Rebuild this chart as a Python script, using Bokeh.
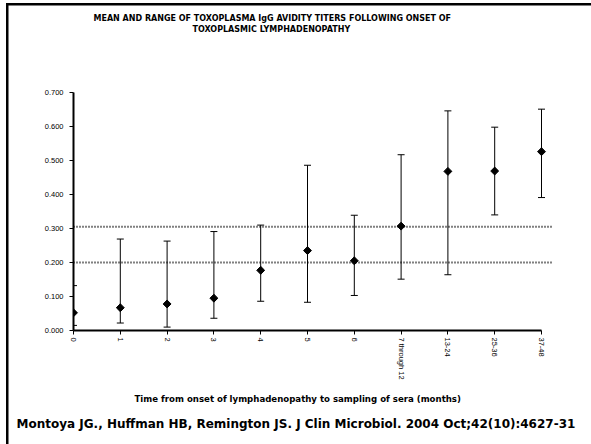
import math
from bokeh.plotting import figure
from bokeh.models import (Range1d, FixedTicker, NumeralTickFormatter, Span, Title,
                          Whisker, ColumnDataSource, TeeHead)
from bokeh.embed import file_html
from bokeh.resources import INLINE

# ---- data ----
categories = ["0", "1", "2", "3", "4", "5", "6", "7 through 12", "13-24", "25-36", "37-48"]
mean_avidity = [0.052, 0.067, 0.078, 0.095, 0.177, 0.235, 0.205, 0.307, 0.468, 0.469, 0.526]
max_avidity = [0.132, 0.269, 0.263, 0.291, 0.310, 0.486, 0.339, 0.517, 0.646, 0.598, 0.651]
min_avidity = [0.015, 0.022, 0.010, 0.036, 0.086, 0.083, 0.103, 0.151, 0.164, 0.340, 0.391]
cutoffs = [0.305, 0.200]
y_ticks = [0.0, 0.1, 0.2, 0.3, 0.4, 0.5, 0.6, 0.7]

title_line1 = "MEAN AND RANGE OF TOXOPLASMA IgG AVIDITY TITERS FOLLOWING ONSET OF"
title_line2 = "TOXOPLASMIC LYMPHADENOPATHY"
x_title = "Time from onset of lymphadenopathy to sampling of sera (months)"
citation = "Montoya JG., Huffman HB, Remington JS. J Clin Microbiol. 2004 Oct;42(10):4627-31"

xs = list(range(len(categories)))
src = ColumnDataSource(dict(x=xs, mean=mean_avidity, hi=max_avidity, lo=min_avidity))

FONT = "Liberation Sans"
TFONT = "DejaVu Sans"

p = figure(width=591, height=444, output_backend="svg", toolbar_location=None,
           x_range=Range1d(0, 10.235), y_range=Range1d(0, 0.7),
           min_border_left=73, min_border_right=39, min_border_top=92, min_border_bottom=114,
           title=None)
p.outline_line_color = None
p.xgrid.visible = False
p.ygrid.visible = False
p.background_fill_color = "white"
p.border_fill_color = None
p.styles = {
    "background": ("linear-gradient(#000, #000) 6px 3px / 585px 2.5px no-repeat, "
                   "linear-gradient(#000, #000) 6px 3px / 2.5px 441px no-repeat, #fff"),
}

# y axis
ya = p.yaxis[0]
ya.ticker = FixedTicker(ticks=y_ticks)
ya.formatter = NumeralTickFormatter(format="0.000")
ya.axis_line_width = 2
ya.axis_line_color = "black"
ya.major_tick_in = 0
ya.major_tick_out = 4
ya.major_tick_line_width = 1
ya.minor_tick_line_color = None
ya.major_label_standoff = 6
ya.major_label_text_font = FONT
ya.major_label_text_font_size = "7.5px"
ya.major_label_text_color = "black"

# x axis
xa = p.xaxis[0]
xa.ticker = FixedTicker(ticks=xs)
xa.major_label_overrides = {i: c for i, c in zip(xs, categories)}
xa.bounds = (0, len(categories) - 1)
xa.axis_line_width = 2
xa.axis_line_color = "black"
xa.major_tick_in = 0
xa.major_tick_out = 4
xa.minor_tick_line_color = None
xa.major_label_orientation = -math.pi / 2
xa.major_label_standoff = 3
xa.major_label_text_font = FONT
xa.major_label_text_font_size = "7.5px"
xa.major_label_text_color = "black"

# cutoff lines
for c in cutoffs:
    p.add_layout(Span(location=c, dimension="width", line_color="black",
                      line_dash="1 2", line_width=2))

# range bars
w = Whisker(source=src, base="x", upper="hi", lower="lo", line_color="black", line_width=1,
            upper_head=TeeHead(size=7, line_color="black", line_width=1),
            lower_head=TeeHead(size=7, line_color="black", line_width=1))
p.add_layout(w)

# mean markers (diamonds)
p.scatter("x", "mean", source=src, marker="square", angle=math.pi / 4, size=5.6,
          fill_color="black", line_color="black", line_width=1)

# chart title (above): spacer nearest the frame, then line 2, then line 1
p.add_layout(Title(text=" ", standoff=54, text_font_size="1px"), "above")
p.add_layout(Title(text=title_line2, align="left", vertical_align="top", offset=119,
                   standoff=0, text_font=TFONT, text_font_size="8px",
                   text_font_style="bold", text_color="black"), "above")
p.add_layout(Title(text=title_line1, align="left", vertical_align="top", offset=20,
                   standoff=0, text_font=TFONT, text_font_size="8px",
                   text_font_style="bold", text_color="black"), "above")

# x axis title and citation (below, after the axis)
p.add_layout(Title(text=x_title, align="left", vertical_align="bottom", offset=61,
                   standoff=18, text_font=TFONT, text_font_size="8.6px",
                   text_font_style="bold", text_color="black"), "below")
p.add_layout(Title(text=citation, align="left", vertical_align="top", offset=-57,
                   standoff=8, text_font=TFONT, text_font_size="12px",
                   text_font_style="bold", text_color="black"), "below")

open("out.html", "w").write(file_html(p, INLINE))
